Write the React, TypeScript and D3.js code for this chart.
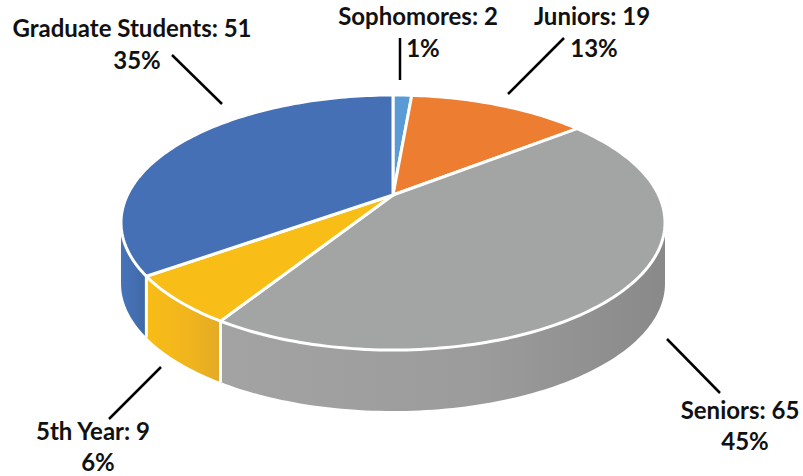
import React, { useMemo } from "react";
import * as d3 from "d3";

const WIDTH = 803;
const HEIGHT = 476;

const categories = ["Sophomores", "Juniors", "Seniors", "5th Year", "Graduate Students"];
const counts = [2, 19, 65, 9, 51];
const percents = ["1%", "13%", "45%", "6%", "35%"];
const topColors = ["#5b9bd5", "#ed7d31", "#a3a5a4", "#f8bd16", "#4670b6"];
const wallStops = [
  ["#5b9bd5", "#5b9bd5", "#5b9bd5"],
  ["#ed7d31", "#ed7d31", "#ed7d31"],
  ["#a3a3a3", "#9b9b9b", "#898989"],
  ["#f8bd16", "#f0b41e", "#e3aa26"],
  ["#4773b8", "#436eb0", "#3e68a2"],
];

// label placement: x of first line, x of second line, baselines, leader line ends
const labelLayout = [
  { x1: 418, x2: 423, y1: 25, y2: 57, leader: [[400, 38], [400, 80]] },
  { x1: 592, x2: 594, y1: 25, y2: 57, leader: [[564, 38], [508, 94]] },
  { x1: 740, x2: 745, y1: 419, y2: 450, leader: [[667, 339], [720, 393]] },
  { x1: 93, x2: 98, y1: 440, y2: 471, leader: [[161, 367], [109, 419]] },
  { x1: 132, x2: 137, y1: 37, y2: 69, leader: [[172, 55], [222, 104]] },
];

const CX = 393;
const CY = 195;
const DEPTH = 61;
const PERSPECTIVE = 0.2157;
const RX = 265.6;
const RY = 121.6;

// tilted disc: angle from 12 o'clock, clockwise, to screen position
const project = (a: number): [number, number] => {
  const u = Math.sin(a);
  const v = Math.cos(a);
  const w = 1 + PERSPECTIVE * v;
  return [CX + (RX * u) / w, CY - (RY * v) / w];
};

const sampleArc = (a0: number, a1: number): [number, number][] => {
  const n = Math.max(2, Math.ceil(Math.abs(a1 - a0) / 0.02));
  return d3.range(n + 1).map((i) => project(a0 + ((a1 - a0) * i) / n));
};

const line = d3.line();

// angle where the rim reaches its leftmost / rightmost point, the wall stops there
const sideAngle = Math.acos(-PERSPECTIVE);

export default function App() {
  const slices = useMemo(
    () => d3.pie<number>().sort(null).value((d) => d)(counts),
    []
  );

  const walls = slices.flatMap((s, i) => {
    const a0 = Math.max(s.startAngle, sideAngle);
    const a1 = Math.min(s.endAngle, 2 * Math.PI - sideAngle);
    if (a1 <= a0) return [];
    const top = sampleArc(a0, a1);
    const bottom = top.map(([x, y]) => [x, y + DEPTH] as [number, number]).reverse();
    return [{
      i,
      a0,
      d: line([...top, ...bottom]) + "Z",
      x0: d3.min(top, (p) => p[0])!,
      x1: d3.max(top, (p) => p[0])!,
    }];
  });

  return (
    <svg
      width={WIDTH}
      height={HEIGHT}
      style={{ position: "absolute", left: 0, top: 0, background: "#fff" }}
      fontFamily="Lato, sans-serif"
      fontWeight={700}
    >
      <defs>
        {walls.map((w) => (
          <linearGradient
            key={w.i}
            id={`wall-${w.i}`}
            gradientUnits="userSpaceOnUse"
            x1={w.x0}
            x2={w.x1}
            y1={0}
            y2={0}
          >
            <stop offset="0" stopColor={wallStops[w.i][0]} />
            <stop offset="0.6" stopColor={wallStops[w.i][1]} />
            <stop offset="1" stopColor={wallStops[w.i][2]} />
          </linearGradient>
        ))}
      </defs>

      {walls.map((w) => (
        <path key={w.i} d={w.d} fill={`url(#wall-${w.i})`} />
      ))}
      {/* white seams down the wall */}
      {walls.slice(1).map((w) => {
        const [x, y] = project(w.a0);
        return <line key={w.i} x1={x} x2={x} y1={y} y2={y + DEPTH} stroke="#fff" strokeWidth={3} />;
      })}

      {slices.map((s, i) => {
        const rim = sampleArc(s.startAngle, s.endAngle);
        return (
          <path
            key={i}
            d={line([[CX, CY], ...rim]) + "Z"}
            fill={topColors[i]}
            stroke="#fff"
            strokeWidth={3}
            strokeLinejoin="round"
          />
        );
      })}

      {labelLayout.map((l, i) => (
        <g key={i}>
          <path d={line(l.leader as [number, number][])!} stroke="#000" strokeWidth={2.5} fill="none" />
          <text x={l.x1} y={l.y1} textAnchor="middle" fontSize={24} fill="#111">
            {`${categories[i]}: ${counts[i]}`}
          </text>
          <text x={l.x2} y={l.y2} textAnchor="middle" fontSize={24} fill="#111">
            {percents[i]}
          </text>
        </g>
      ))}
    </svg>
  );
}
